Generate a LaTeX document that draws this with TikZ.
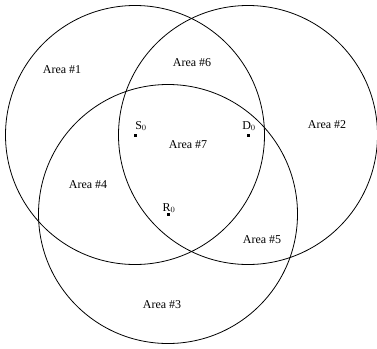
\documentclass[tikz,border=0pt]{standalone}
\usepackage{fontspec}
\setmainfont{Liberation Serif}
\begin{document}
\begin{tikzpicture}[x=1pt,y=-1pt,
  area/.style={draw,line width=0.8pt,circle,minimum size=259pt,inner sep=0pt},
  lbl/.style={font=\fontsize{12}{13}\selectfont,inner sep=0pt},
  pt/.style={fill,minimum size=3pt,inner sep=0pt}]
\useasboundingbox (0,0) rectangle (377,348);
\node[area] (c1) at (135,135) {};
\node[area] (c2) at (248,135) {};
\node[area] (c3) at (168,214) {};
\node[pt] (s0) at (c1.center) {};
\node[pt] (d0) at (c2.center) {};
\node[pt] (r0) at (c3.center) {};
\node[lbl,anchor=base] (sl) at (141,129) {S$_0$};
\node[lbl,anchor=base] (dl) at (249,129) {D$_0$};
\node[lbl,anchor=base] (rl) at (169,211) {R$_0$};
\node[lbl] (a1) at (62,70) {Area \#1};
\node[lbl] (a6) at (192,63) {Area \#6};
\node[lbl] (a2) at (327,125) {Area \#2};
\node[lbl] (a7) at (188,145) {Area \#7};
\node[lbl] (a4) at (88,185) {Area \#4};
\node[lbl] (a5) at (262,240) {Area \#5};
\node[lbl] (a3) at (162,305) {Area \#3};
\end{tikzpicture}
\end{document}
